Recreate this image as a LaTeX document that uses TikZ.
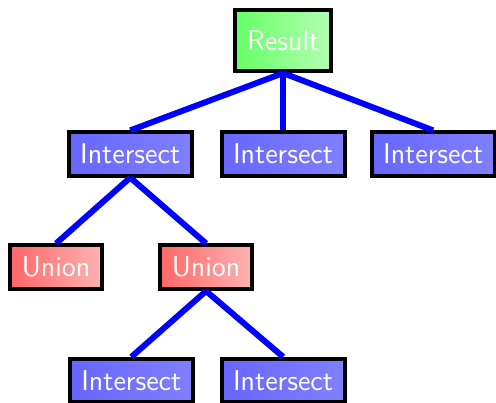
\documentclass[tikz,border=0pt]{standalone}
\tikzset{
  box/.style={draw=black, line width=2pt, text=white, font=\sffamily\Large, inner xsep=5.8pt, inner ysep=5.8pt},
  res/.style={box, left color=green!60, right color=green!30, minimum height=30.5pt},
  isect/.style={box, left color=blue!60, right color=blue!50},
  unio/.style={box, left color=red!60, right color=red!30},
  link/.style={blue, line width=3pt},
}
\begin{document}
\begin{tikzpicture}
          \useasboundingbox (-5.0,0.72) rectangle (3.76,-6.39);
          \node[res] (nRes) at (0,0) {Result};
          \node[isect] (nI1) at (-2.7,-2) {Intersect};
          \node[isect] (nI2) at (0,-2) {Intersect};
          \node[isect] (nI3) at (2.65,-2) {Intersect};
          \node[unio] (nU1) at (-4.01,-4) {Union};
          \node[unio] (nU2) at (-1.36,-4) {Union};
          \node[isect] (nI4) at (-2.68,-6) {Intersect};
          \node[isect] (nI5) at (0,-6) {Intersect};
          
          \draw[link] (nRes.south) -- (nI1.north);
          \draw[link] (nRes.south) -- (nI2.north);
          \draw[link] (nRes.south) -- (nI3.north);
          
          \draw[link] (nI1.south) -- (nU1.north);
          \draw[link] (nI1.south) -- (nU2.north);
          
          \draw[link] (nU2.south) -- (nI4.north);
          \draw[link] (nU2.south) -- (nI5.north);
        \end{tikzpicture}
\end{document}
